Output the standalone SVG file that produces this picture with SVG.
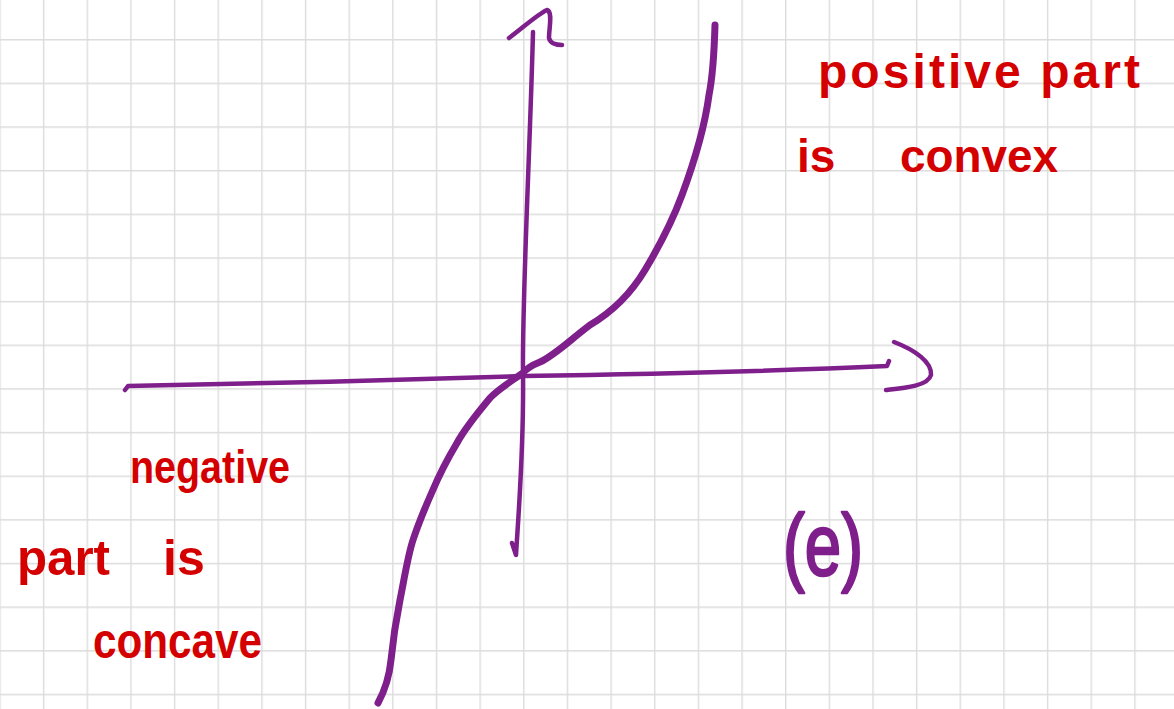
<svg xmlns="http://www.w3.org/2000/svg" width="1174" height="709" viewBox="0 0 1174 709">
  <defs>
    <pattern id="grid" width="43.65" height="43.65" patternUnits="userSpaceOnUse" x="-0.7" y="39">
      <path d="M0 0.7 H43.65 M0.7 0 V43.65" fill="none" stroke="#dcdcdc" stroke-width="1.4"/>
    </pattern>
    <style>
      .pen { fill: none; stroke: #7e1f8b; stroke-linecap: round; stroke-linejoin: round; }
      .ax { stroke-width: 4.5; }
      .cv { stroke-width: 7; }
      .red { fill: #d40000; font-family: "Liberation Sans", Arial, sans-serif; font-weight: bold; }
      .lbl { fill: #7e1f8b; stroke: #7e1f8b; stroke-width: 2.5; stroke-linejoin: round; font-family: "Liberation Sans", Arial, sans-serif; font-weight: normal; }
    </style>
  </defs>
  <rect width="1174" height="709" fill="#ffffff"/>
  <rect width="1174" height="709" fill="url(#grid)"/>

  <g id="axes">
    <path class="pen ax" d="M533,32 C530,150 522,300 523,373 C524,450 518,520 516,555 L512,543"/>
    <path class="pen ax" d="M509,38 C525,26 538,14 547,10 C553,12 549,28 549,38 C550,43 556,45 562,45"/>
    <path class="pen ax" d="M125,390 L128,386 C250,384 400,380 523,376 C650,374 780,371 887,366 L889,361"/>
    <path class="pen ax" d="M894,342 C915,350 932,362 931,375 C928,386 905,388 886,390"/>
  </g>

  <g id="curve">
    <path class="pen cv" d="M715,25 C714,60 712,80 709,95 C705,125 695,160 682,195 C672,222 660,245 645,270 C630,295 612,312 590,325 C570,340 555,355 540,362 C530,366 526,369 523,373 C510,382 497,390 490,398 C480,410 465,428 457,443 C448,458 440,473 432,492 C424,510 418,525 413,540 C408,555 404,580 400,600 C396,620 393,640 391,660 C389,680 384,692 378,703"/>
  </g>

  <g id="label-positive">
    <text class="red" x="818" y="88" font-size="48" textLength="322" lengthAdjust="spacing">positive part</text>
    <text class="red" x="797" y="172" font-size="46">is</text>
    <text class="red" x="900" y="172" font-size="46" textLength="158" lengthAdjust="spacingAndGlyphs">convex</text>
  </g>

  <g id="label-negative">
    <text class="red" x="130" y="483" font-size="46" textLength="160" lengthAdjust="spacingAndGlyphs">negative</text>
    <text class="red" x="17" y="575" font-size="50" textLength="93" lengthAdjust="spacingAndGlyphs">part</text>
    <text class="red" x="163" y="575" font-size="50">is</text>
    <text class="red" x="93" y="658" font-size="50" textLength="169" lengthAdjust="spacingAndGlyphs">concave</text>
  </g>

  <g id="label-e">
    <text class="lbl" x="783" y="575" font-size="88" textLength="80" lengthAdjust="spacingAndGlyphs">(e)</text>
  </g>
</svg>
